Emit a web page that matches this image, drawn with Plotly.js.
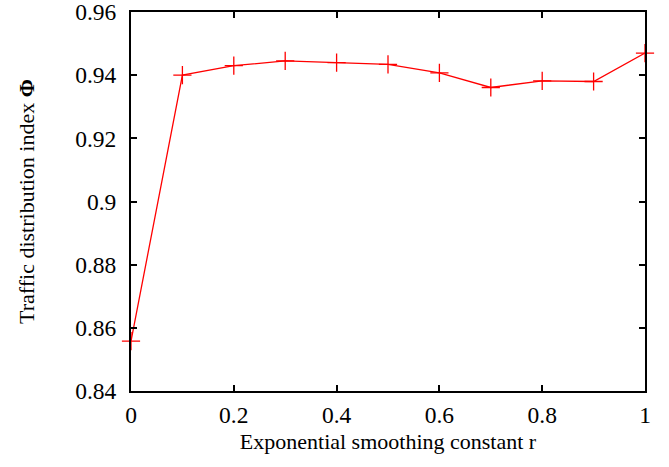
<!DOCTYPE html>
<html>
<head>
<meta charset="utf-8">
<script src="https://cdn.plot.ly/plotly-3.0.1.min.js"></script>
<style>html,body{margin:0;padding:0;background:#fff;}#chart{width:669px;height:467px;}</style>
</head>
<body>
<div id="chart"></div>
<script>
const rValues = [0, 0.1, 0.2, 0.3, 0.4, 0.5, 0.6, 0.7, 0.8, 0.9, 1.0];
const phiValues = [0.8558, 0.9400, 0.9430, 0.9445, 0.9440, 0.9434, 0.9407, 0.9361, 0.9382, 0.9380, 0.9470];
const xTickVals = [0, 0.2, 0.4, 0.6, 0.8, 1];
const yTickVals = [0.84, 0.86, 0.88, 0.9, 0.92, 0.94, 0.96];

const fam = '"Liberation Serif", "Times New Roman", serif';
const font = {family: fam, size: 22, color: '#000'};
const tickFont = {family: fam, size: 23.5, color: '#000'};

Plotly.newPlot('chart', [{
  x: rValues, y: phiValues, type: 'scatter', mode: 'lines+markers',
  line: {color: '#ff0000', width: 1.3},
  marker: {symbol: 'cross-thin-open', size: 13, color: '#ff0000', line: {color: '#ff0000', width: 1.3}},
  cliponaxis: false, showlegend: false
}], {
  width: 669, height: 467,
  margin: {l: 131, r: 24, t: 12, b: 76},
  paper_bgcolor: '#fff', plot_bgcolor: '#fff',
  font: font,
  xaxis: {
    range: [0, 1], tickvals: xTickVals, ticks: 'inside', ticklen: 6, tickwidth: 2, tickcolor: '#000',
    showline: true, linecolor: '#000', linewidth: 2, mirror: 'ticks', showgrid: false, zeroline: false,
    ticklabeloverflow: 'allow', ticklabelstandoff: 2,
    tickfont: tickFont, title: {text: 'Exponential smoothing constant r', font: font, standoff: 6}
  },
  yaxis: {
    range: [0.84, 0.96], tickvals: yTickVals, ticks: 'inside', ticklen: 6, tickwidth: 2, tickcolor: '#000',
    showline: true, linecolor: '#000', linewidth: 2, mirror: 'ticks', showgrid: false, zeroline: false,
    ticklabeloverflow: 'allow', ticklabelstandoff: 8,
    tickfont: tickFont, title: {text: 'Traffic distribution index <b>Φ</b>', font: font, standoff: 34}
  }
}, {displayModeBar: false, staticPlot: true});
</script>
</body>
</html>
